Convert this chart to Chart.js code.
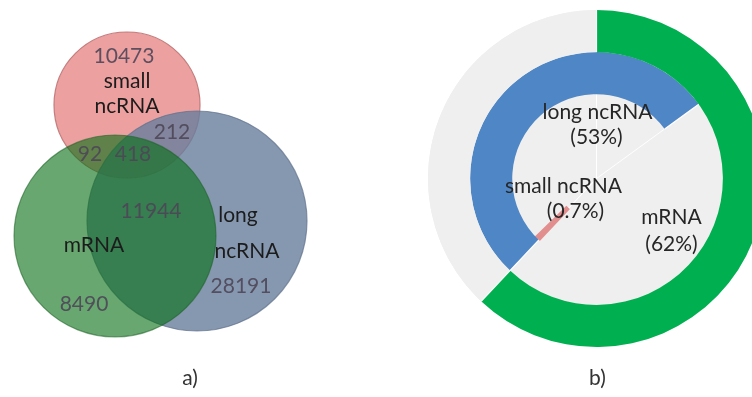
<!DOCTYPE html>
<html>
<head>
<meta charset="utf-8">
<script src="https://cdn.jsdelivr.net/npm/chart.js@4/dist/chart.umd.min.js"></script>
<style>
  html, body { margin: 0; padding: 0; background: #fff; overflow: hidden; width: 752px; height: 397px; }
  canvas { position: absolute; top: 0; }
  #venn { left: 0; }
  #ring { left: 428px; }
</style>
</head>
<body>
<canvas id="venn" width="376" height="397"></canvas>
<canvas id="ring" width="337" height="397"></canvas>
<script>
// ---- a) overlap of transcript sets ----
const setNames = ['small ncRNA', 'mRNA', 'long ncRNA'];
// region order: small only, mRNA only, long only, small+mRNA, small+long, mRNA+long, all three
const regionCounts = [10473, 8490, 28191, 92, 212, 11944, 418];

// ---- b) share of each class ----
const ringCategories = ['mRNA', 'long ncRNA', 'small ncRNA'];
const ringShares = [62, 53, 0.7];

// layout of the venn circles (canvas pixel units)
const circleX = [127, 115, 197];
const circleY = [105, 236, 221];
const circleR = [73, 101, 110];
const circleFill = ['rgb(236,160,160)', 'rgba(3,110,17,0.6)', 'rgba(104,126,156,0.8)'];
const circleEdge = ['rgba(190,115,115,0.9)', 'rgba(25,95,35,0.55)', 'rgba(95,112,140,0.7)'];
const circleOrder = [3, 1, 2];

// label anchors (text baseline, centred)
const countX = [124, 84, 241, 90, 172, 151, 133];
const countY = [63, 311, 293, 161, 139, 218, 161];
const nameLines = [['small', 'ncRNA'], ['mRNA'], ['long', 'ncRNA']];
const nameX = [[127, 127], [94], [238, 247]];
const nameY = [[88, 113], [252], [222, 258]];

const FONT = 'Lato, "Open Sans", sans-serif';

const vennText = {
  id: 'vennText',
  afterDatasetsDraw(chart) {
    const { ctx, scales: { x, y } } = chart;
    ctx.save();
    ctx.textAlign = 'center';
    ctx.textBaseline = 'alphabetic';
    ctx.font = '21px ' + FONT;
    ctx.fillStyle = 'rgba(78,70,88,0.9)';
    regionCounts.forEach((v, i) => {
      ctx.fillText(String(v), x.getPixelForValue(countX[i]), y.getPixelForValue(countY[i]));
    });
    ctx.fillStyle = '#1c1c1c';
    nameLines.forEach((lines, i) => {
      lines.forEach((t, j) => {
        ctx.fillText(t, x.getPixelForValue(nameX[i][j]), y.getPixelForValue(nameY[i][j]));
      });
    });
    ctx.fillStyle = '#333';
    ctx.fillText('a)', x.getPixelForValue(190), y.getPixelForValue(385));
    ctx.restore();
  }
};

new Chart(document.getElementById('venn'), {
  type: 'bubble',
  data: {
    datasets: setNames.map((name, i) => ({
      label: name,
      data: [{ x: circleX[i], y: circleY[i], r: circleR[i] }],
      backgroundColor: circleFill[i],
      borderColor: circleEdge[i],
      borderWidth: 1.2,
      order: circleOrder[i],
      clip: false
    }))
  },
  options: {
    responsive: false,
    animation: false,
    events: [],
    layout: { padding: 0, autoPadding: false },
    scales: {
      x: { type: 'linear', min: 0, max: 376, display: false },
      y: { type: 'linear', min: 0, max: 397, reverse: true, display: false }
    },
    plugins: { legend: { display: false }, tooltip: { enabled: false } }
  },
  plugins: [vennText]
});

// ---- ring chart ----
const GREY = '#efefef';
const ringColors = ['#00b050', '#4f86c6', '#e28e8e'];
const startDeg = ringShares[0] * 3.6;   // every ring begins where the mRNA arc closes

function radial(ctx, cx, cy, ang, r0, r1) {
  ctx.beginPath();
  ctx.moveTo(cx + Math.cos(ang) * r0, cy + Math.sin(ang) * r0);
  ctx.lineTo(cx + Math.cos(ang) * r1, cy + Math.sin(ang) * r1);
  ctx.stroke();
}

const ringBackdrop = {
  id: 'ringBackdrop',
  beforeDatasetsDraw(chart) {
    const { ctx } = chart;
    const outer = chart.getDatasetMeta(0).data[0];
    const inner = chart.getDatasetMeta(2).data[0];
    ctx.save();
    ctx.fillStyle = GREY;
    ctx.beginPath();
    ctx.arc(outer.x, outer.y, outer.outerRadius, 0, Math.PI * 2);
    ctx.fill();
    // slice boundaries of the outer rings carried through the centre
    ctx.strokeStyle = 'rgba(255,255,255,0.95)';
    ctx.lineWidth = 1;
    [0, 1].forEach(d => {
      chart.getDatasetMeta(d).data.forEach(a => {
        radial(ctx, outer.x, outer.y, a.startAngle, 0, inner.outerRadius);
      });
    });
    ctx.restore();
  },
  afterDatasetsDraw(chart) {
    const { ctx } = chart;
    const c = chart.getDatasetMeta(0).data[0];
    const cx = c.x, cy = c.y;
    ctx.save();
    // white separators between slices of the two outer rings
    ctx.strokeStyle = '#ffffff';
    ctx.lineWidth = 1.2;
    [0, 1].forEach(d => {
      chart.getDatasetMeta(d).data.forEach(a => {
        radial(ctx, cx, cy, a.startAngle, a.innerRadius, a.outerRadius);
      });
    });
    ctx.textAlign = 'center';
    ctx.textBaseline = 'alphabetic';
    ctx.font = '21px ' + FONT;
    ctx.fillStyle = '#262626';
    // [name dx, name dy, pct dx, pct dy] relative to the ring centre
    const place = [[75, 45, 75, 72], [1, -60, 0, -35], [-33, 14, -21, 39]];
    ringCategories.forEach((name, i) => {
      const p = place[i];
      ctx.fillText(name, cx + p[0], cy + p[1]);
      ctx.fillText('(' + ringShares[i] + '%)', cx + p[2], cy + p[3]);
    });
    ctx.fillStyle = '#333';
    ctx.fillText('b)', cx + 1, 385);
    ctx.restore();
  }
};

new Chart(document.getElementById('ring'), {
  type: 'doughnut',
  data: {
    labels: ['a', 'b'],
    datasets: [
      {
        label: ringCategories[0],
        data: [100 - ringShares[0], ringShares[0]],
        backgroundColor: [GREY, ringColors[0]],
        borderWidth: 0,
        rotation: startDeg
      },
      {
        label: ringCategories[1],
        data: [ringShares[1], 100 - ringShares[1]],
        backgroundColor: [ringColors[1], GREY],
        borderWidth: 0,
        rotation: startDeg
      },
      {
        label: ringCategories[2],
        data: [100 - ringShares[2], ringShares[2]],
        backgroundColor: ['rgba(0,0,0,0)', ringColors[2]],
        borderColor: ['rgba(0,0,0,0)', ringColors[2]],
        borderWidth: [0, 3],
        borderJoinStyle: 'miter',
        rotation: startDeg + ringShares[2] * 3.6
      }
    ]
  },
  options: {
    responsive: false,
    animation: false,
    events: [],
    cutout: '25%',
    hoverOffset: 0,
    offset: 0,
    layout: { padding: { top: 10, bottom: 50, left: 0, right: 0 } },
    plugins: { legend: { display: false }, tooltip: { enabled: false } }
  },
  plugins: [ringBackdrop]
});
</script>
</body>
</html>
